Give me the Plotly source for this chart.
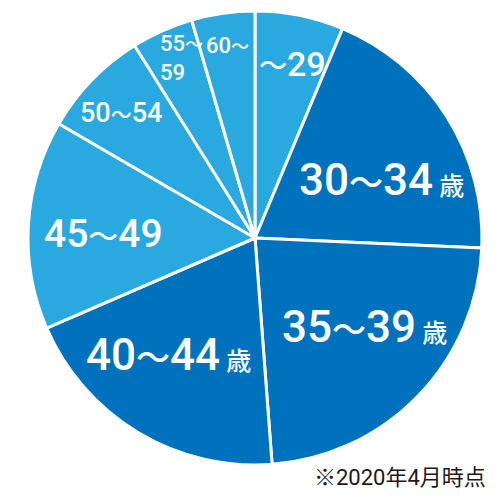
import plotly.graph_objects as go

categories = ["～29", "30～34", "35～39", "40～44", "45～49", "50～54", "55～59", "60～"]
shares = [6.3, 19.4, 23.1, 19.7, 14.9, 7.7, 4.4, 4.5]
slice_colors = ["#29a9e0", "#0071bc", "#0071bc", "#0071bc", "#29a9e0", "#29a9e0", "#29a9e0", "#29a9e0"]


def tilde(size):
    return f"<span style='font-size:{size}px'>～</span>"


def sai(size):
    return f"<span style='font-size:{size}px'> 歳</span>"


label_texts = [
    "" + tilde(28) + "29",
    "30" + tilde(34) + "34" + sai(25),
    "35" + tilde(34) + "39" + sai(25),
    "40" + tilde(34) + "44" + sai(25),
    "45" + tilde(30) + "49",
    "50" + tilde(21) + "54",
    "55" + tilde(18) + "<br>59",
    "60" + tilde(18),
]
label_sizes = [34, 44, 44, 44, 39, 27, 22, 22]
label_pos = [(292, 64), (381, 180), (364, 327), (168, 355), (103, 234), (121, 113), (158, 58), (227, 45)]
label_anchor = ["center", "center", "center", "center", "center", "center", "left", "center"]

note = "※2020年4月時点"

# page body has an 8px margin, so the figure starts at 8px
OFF = 8
W = H = 500 - OFF
FONT = "Roboto, Liberation Sans, Noto Sans CJK JP, sans-serif"


def px_x(v):
    return (v - OFF) / W


def px_y(v):
    return 1 - (v - OFF) / H


fig = go.Figure(go.Pie(
    labels=categories,
    values=shares,
    sort=False,
    direction="clockwise",
    rotation=0,
    marker=dict(colors=slice_colors, line=dict(color="white", width=3)),
    textinfo="none",
    hoverinfo="label+percent",
    showlegend=False,
    domain=dict(x=[px_x(28), px_x(482)], y=[px_y(465), px_y(11)]),
))

annotations = []
for txt, size, (px, py), anc in zip(label_texts, label_sizes, label_pos, label_anchor):
    annotations.append(dict(
        text=txt, x=px_x(px), y=px_y(py), xref="paper", yref="paper",
        xanchor=anc, yanchor="middle", showarrow=False, align="left",
        font=dict(family=FONT, size=size, color="white", weight=500),
    ))
annotations.append(dict(
    text=note, x=px_x(488), y=px_y(477), xref="paper", yref="paper",
    xanchor="right", yanchor="middle", showarrow=False,
    font=dict(family=FONT, size=22, color="#231815"),
))

fig.update_layout(
    width=W, height=H,
    margin=dict(l=0, r=0, t=0, b=0),
    paper_bgcolor="white", plot_bgcolor="white",
    annotations=annotations,
)

fig.write_html("out.html")
